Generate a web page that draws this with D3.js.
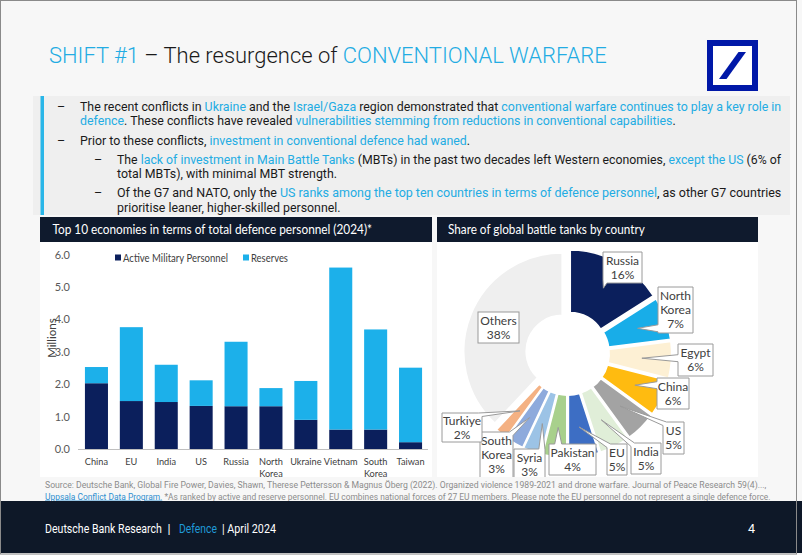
<!DOCTYPE html>
<html><head><meta charset="utf-8">
<script src="https://cdn.jsdelivr.net/npm/d3@7"></script>
<style>body{margin:0;background:#fff;}svg{display:block;}</style>
</head><body>
<svg id="c" width="802" height="555"></svg>
<script>
// ---------- DATA ----------
const categories = ["China","EU","India","US","Russia","North Korea","Ukraine","Vietnam","South Korea","Taiwan"];
const activePersonnel = [2.03,1.48,1.45,1.33,1.32,1.32,0.90,0.60,0.60,0.21];
const reservePersonnel = [0.50,2.28,1.15,0.79,1.99,0.56,1.20,5.00,3.09,2.30];
const seriesNames = ["Active Military Personnel","Reserves"];
const yTicks = [0,1,2,3,4,5,6];
const tankCountries = ["Russia","North Korea","Egypt","China","US","India","EU","Pakistan","Syria","South Korea","Turkiye","Others"];
const tankShares = [16,7,6,6,5,5,5,4,3,3,2,38];

// ---------- STYLE / LAYOUT ----------
const seriesColors = ["#0b1f5c","#1cb0ea"];
const tankColors = ["#0b1f5c","#18ade8","#fdf0d4","#ffbb10","#a3a3a3","#e0eed8","#3d6ec4","#a8d08c","#9cc3e6","#8eaadc","#f4b183","#efefef"];
// label boxes [x0,y0,w,h]
const labelBoxes = [[603,252,39,31],[658,287,35,46],[678,344,35,32],[657,378,32,31],[663,422,21,32],[631,443,30,31],[607,444,20,31],[549,444,47,31],[514,449,31,31],[480,432,33,46],[442,413,40,29],[478,312,41,31]];
const cyan = "#23ace3";
const ink = "#1a1a1a";

const svg = d3.select("#c");
function fit(sel, x, y, target){
  const w = sel.node().getComputedTextLength();
  const k = target / w;
  sel.attr("transform", `translate(${x},${y}) scale(${k},1)`);
  return k;
}
function scaleOnly(sel, x, y, k){ sel.attr("transform", `translate(${x},${y}) scale(${k},1)`); }

// page background
svg.append("rect").attr("width",802).attr("height",555).attr("fill","#f7f7f7");

// ---------- TITLE ----------
const title = svg.append("text").attr("font-family","Roboto").attr("font-weight",300).attr("font-size",22.5).attr("fill",ink);
title.append("tspan").attr("fill",cyan).text("SHIFT #1");
title.append("tspan").text(" \u2013 The resurgence of ");
title.append("tspan").attr("fill",cyan).text("CONVENTIONAL WARFARE");
fit(title, 49, 63, 558);

// logo
svg.append("rect").attr("x",710).attr("y",43).attr("width",45).attr("height",45).attr("fill","#fff").attr("stroke","#0018a8").attr("stroke-width",6);
svg.append("path").attr("d","M719,79 L726.5,79 L746,52 L738.5,52 Z").attr("fill","#0018a8");

// ---------- BULLETS ----------
svg.append("rect").attr("x",33).attr("y",96).attr("width",757).attr("height",119).attr("fill","#efefef");
svg.append("rect").attr("x",40.5).attr("y",96).attr("width",3.5).attr("height",119).attr("fill","#29b6e8");
const bulletLines = [
  {lvl:1, dash:true, y:111, fitTo:702, segs:[["The recent conflicts in ",0],["Ukraine",1],[" and the ",0],["Israel/Gaza",1],[" region demonstrated that ",0],["conventional warfare continues to play a key role in",1]]},
  {lvl:1, dash:false, y:125, segs:[["defence",1],[". These conflicts have revealed ",0],["vulnerabilities stemming from reductions in conventional capabilities",1],[".",0]]},
  {lvl:1, dash:true, y:145, segs:[["Prior to these conflicts, ",0],["investment in conventional defence had waned",1],[".",0]]},
  {lvl:2, dash:true, y:164, fitTo:665, segs:[["The ",0],["lack of investment in Main Battle Tanks",1],[" (MBTs) in the past two decades left Western economies, ",0],["except the US",1],[" (6% of",0]]},
  {lvl:2, dash:false, y:178, segs:[["total MBTs), with minimal MBT strength.",0]]},
  {lvl:2, dash:true, y:197, fitTo:665, segs:[["Of the G7 and NATO, only the ",0],["US ranks among the top ten countries in terms of defence personnel",1],[", as other G7 countries",0]]},
  {lvl:2, dash:false, y:212, segs:[["prioritise leaner, higher-skilled personnel.",0]]}
];
let kBul = null;
const bulTexts = [];
bulletLines.forEach(l=>{
  const x = l.lvl===1 ? 80 : 117;
  if(l.dash){
    svg.append("text").attr("x", l.lvl===1?57:94).attr("y",l.y).attr("font-family","Roboto").attr("font-size",12.5).attr("fill",ink).text("\u2013");
  }
  const t = svg.append("text").attr("font-family","Roboto").attr("font-size",12.5).attr("fill",ink);
  l.segs.forEach(s=>t.append("tspan").attr("fill", s[1]?cyan:ink).text(s[0]));
  if(l.fitTo){ const k = fit(t, x, l.y, l.fitTo); if(kBul===null) kBul=k; }
  bulTexts.push({t,x,y:l.y,fit:!!l.fitTo});
});
bulTexts.forEach(b=>{ if(!b.fit) scaleOnly(b.t,b.x,b.y,kBul); });

// ---------- PANELS ----------
const hdr = "#0f1a2d";
svg.append("rect").attr("x",40).attr("y",242).attr("width",392).attr("height",235).attr("fill","#fff");
svg.append("rect").attr("x",437).attr("y",242).attr("width",321).attr("height",235).attr("fill","#fff");
svg.append("rect").attr("x",40).attr("y",217).attr("width",392).attr("height",25).attr("fill",hdr);
svg.append("rect").attr("x",437).attr("y",217).attr("width",321).attr("height",25).attr("fill",hdr);
const h1 = svg.append("text").attr("font-family","Lato").attr("font-size",13).attr("fill","#fff").text("Top 10 economies in terms of total defence personnel (2024)*");
fit(h1, 52.5, 234, 320);
const h2 = svg.append("text").attr("font-family","Lato").attr("font-size",13).attr("fill","#fff").text("Share of global battle tanks by country");
fit(h2, 448, 234, 197);

// ---------- BAR CHART ----------
const x = d3.scaleBand().domain(categories).range([79,428]).paddingInner(0.34).paddingOuter(0.17);
const y = d3.scaleLinear().domain([0,6]).range([449,254.6]);
const stackData = categories.map((c,i)=>({cat:c, active:activePersonnel[i], reserves:reservePersonnel[i]}));
const stacked = d3.stack().keys(["active","reserves"])(stackData);
const gBar = svg.append("g");
stacked.forEach((layer,li)=>{
  gBar.append("g").attr("fill",seriesColors[li]).selectAll("rect").data(layer).join("rect")
    .attr("x",d=>x(d.data.cat)).attr("width",x.bandwidth())
    .attr("y",d=>y(d[1])).attr("height",d=>y(d[0])-y(d[1]));
});
svg.append("line").attr("x1",78).attr("x2",428).attr("y1",y(0)+0.5).attr("y2",y(0)+0.5).attr("stroke","#bfbfbf").attr("stroke-width",1);
const yAxis = d3.axisLeft(y).tickValues(yTicks).tickFormat(d3.format(".1f")).tickSize(0).tickPadding(0);
const gy = svg.append("g").attr("transform","translate(70,0)").call(yAxis);
gy.select(".domain").remove();
gy.selectAll("text").attr("font-family","Lato").attr("font-size",11).attr("fill","#595959");
svg.append("text").attr("transform","translate(55.5,338) rotate(-90)").attr("text-anchor","middle")
  .attr("font-family","Lato").attr("font-size",11.5).attr("fill","#404040").text("Millions");
// x labels
categories.forEach(c=>{
  const parts = c.split(" ");
  const t = svg.append("text").attr("text-anchor","middle").attr("font-family","Lato").attr("font-size",9.2).attr("fill","#404040");
  parts.forEach((p,i)=>t.append("tspan").attr("x",x(c)+x.bandwidth()/2).attr("y",465+i*11.5).text(p));
});
// legend
const legX = [115,243], legW = [105,37];
seriesNames.forEach((s,i)=>{
  svg.append("rect").attr("x",legX[i]).attr("y",254.5).attr("width",6).attr("height",6).attr("fill",seriesColors[i]);
  const t = svg.append("text").attr("font-family","Lato").attr("font-size",11).attr("fill","#404040").text(s);
  fit(t, legX[i]+8, 261.5, legW[i]);
});

// ---------- DONUT ----------
const cx = 567.5, cy = 353.5, rIn = 36, rOut = 98.5, expl = 5.7;
const pieData = d3.pie().sort(null).value(d=>d.v).startAngle(0).endAngle(2*Math.PI)(tankCountries.map((c,i)=>({c, v:tankShares[i], col:tankColors[i], box:labelBoxes[i]})));
const arc = d3.arc().innerRadius(rIn).outerRadius(rOut);
const clip = svg.append("clipPath").attr("id","pclip");
clip.append("rect").attr("x",437).attr("y",242).attr("width",321).attr("height",235);
const gPie = svg.append("g").attr("clip-path","url(#pclip)");
const gSl = gPie.append("g").attr("transform",`translate(${cx},${cy})`);
pieData.forEach(d=>{
  const m = (d.startAngle+d.endAngle)/2;
  gSl.append("path").attr("d",arc(d)).attr("fill",d.data.col).attr("stroke","#fff").attr("stroke-width",1.6)
    .attr("transform",`translate(${expl*Math.sin(m)},${-expl*Math.cos(m)})`);
});
// labels with callout tails
function calloutPath(b, tip, hw){
  const [x0,y0,w,h] = b, x1=x0+w, y1=y0+h, per=2*(w+h);
  const at = t=>{ t=((t%per)+per)%per;
    if(t<w) return [x0+t,y0]; if(t<w+h) return [x1,y0+t-w]; if(t<2*w+h) return [x1-(t-w-h),y1]; return [x0,y1-(t-2*w-h)]; };
  const px = Math.max(x0,Math.min(x1,tip[0])), py = Math.max(y0,Math.min(y1,tip[1]));
  let tp;
  if(py===y0 && px<x1) tp=px-x0; else if(px===x1 && py<y1) tp=w+py-y0; else if(py===y1 && px>x0) tp=w+h+x1-px; else tp=2*w+h+y1-py;
  const t1=tp-hw, t2=tp+hw;
  const corners=[0,w,w+h,2*w+h];
  const pts=[at(t2)];
  const seq=[];
  corners.forEach(c=>{ let cc=c; while(cc<=t2) cc+=per; if(cc<t1+per) seq.push(cc); });
  seq.sort((a,b)=>a-b).forEach(c=>pts.push(at(c)));
  pts.push(at(t1)); pts.push(tip);
  return "M"+pts.map(p=>p[0].toFixed(1)+","+p[1].toFixed(1)).join("L")+"Z";
}
const rTip = 74.5;
pieData.forEach(d=>{
  const b = d.data.box;
  const m = (d.startAngle+d.endAngle)/2;
  const lines = d.data.c==="Others" ? ["Others"] : d.data.c.split(" ");
  lines.push(d.data.v+"%");
  if(d.data.c==="Others"){
    gPie.append("rect").attr("x",b[0]).attr("y",b[1]).attr("width",b[2]).attr("height",b[3]).attr("fill","#fff").attr("stroke","#9a9a9a").attr("stroke-width",1);
  } else {
    const tip=[cx+rTip*Math.sin(m), cy-rTip*Math.cos(m)];
    gPie.append("path").attr("d",calloutPath(b,tip,3.5)).attr("fill","#fff").attr("stroke","#9a9a9a").attr("stroke-width",1).attr("stroke-linejoin","miter");
  }
  const mid = b[1]+b[3]/2;
  lines.forEach((l,i)=>{
    gPie.append("text").attr("x",b[0]+b[2]/2).attr("y",mid+(i-(lines.length-1)/2)*14).attr("dy","0.36em")
      .attr("text-anchor","middle").attr("font-family","Lato").attr("font-size",12).attr("fill","#404040").text(l);
  });
});

// ---------- SOURCE ----------
const s1 = svg.append("text").attr("font-family","Roboto").attr("font-size",8.6).attr("fill","#8c8c8c")
  .text("Source: Deutsche Bank, Global Fire Power, Davies, Shawn, Therese Pettersson & Magnus \u00d6berg (2022). Organized violence 1989-2021 and drone warfare. Journal of Peace Research 59(4)...,");
fit(s1, 45, 488, 722);
const s2 = svg.append("text").attr("font-family","Roboto").attr("font-size",8.6).attr("fill","#8c8c8c");
s2.append("tspan").attr("fill","#2e8fd0").attr("text-decoration","underline").text("Uppsala Conflict Data Program.");
s2.append("tspan").text(" *As ranked by active and reserve personnel. EU combines national forces of 27 EU members. Please note the EU personnel do not represent a single defence force.");
fit(s2, 45, 499.5, 725);

// ---------- FOOTER ----------
svg.append("rect").attr("x",0).attr("y",501).attr("width",802).attr("height",52).attr("fill","#0e1828");
const footerParts = [["Deutsche Bank Research",45,117,"#fff"],["|",167.5,null,"#fff"],["Defence",179,38,"#1f9ad8"],["| April 2024",222,54,"#fff"]];
footerParts.forEach(p=>{
  const t = svg.append("text").attr("font-family","Roboto").attr("font-size",12.5).attr("fill",p[3]).text(p[0]);
  if(p[2]) fit(t,p[1],533,p[2]); else t.attr("x",p[1]).attr("y",533);
});
svg.append("text").attr("x",748).attr("y",533).attr("font-family","Roboto").attr("font-size",12.5).attr("fill","#fff").text("4");

// page frame
svg.append("rect").attr("x",0.5).attr("y",0.5).attr("width",796).attr("height",553.5).attr("fill","none").attr("stroke","#8a8a8a").attr("stroke-width",1);
</script>
</body></html>
